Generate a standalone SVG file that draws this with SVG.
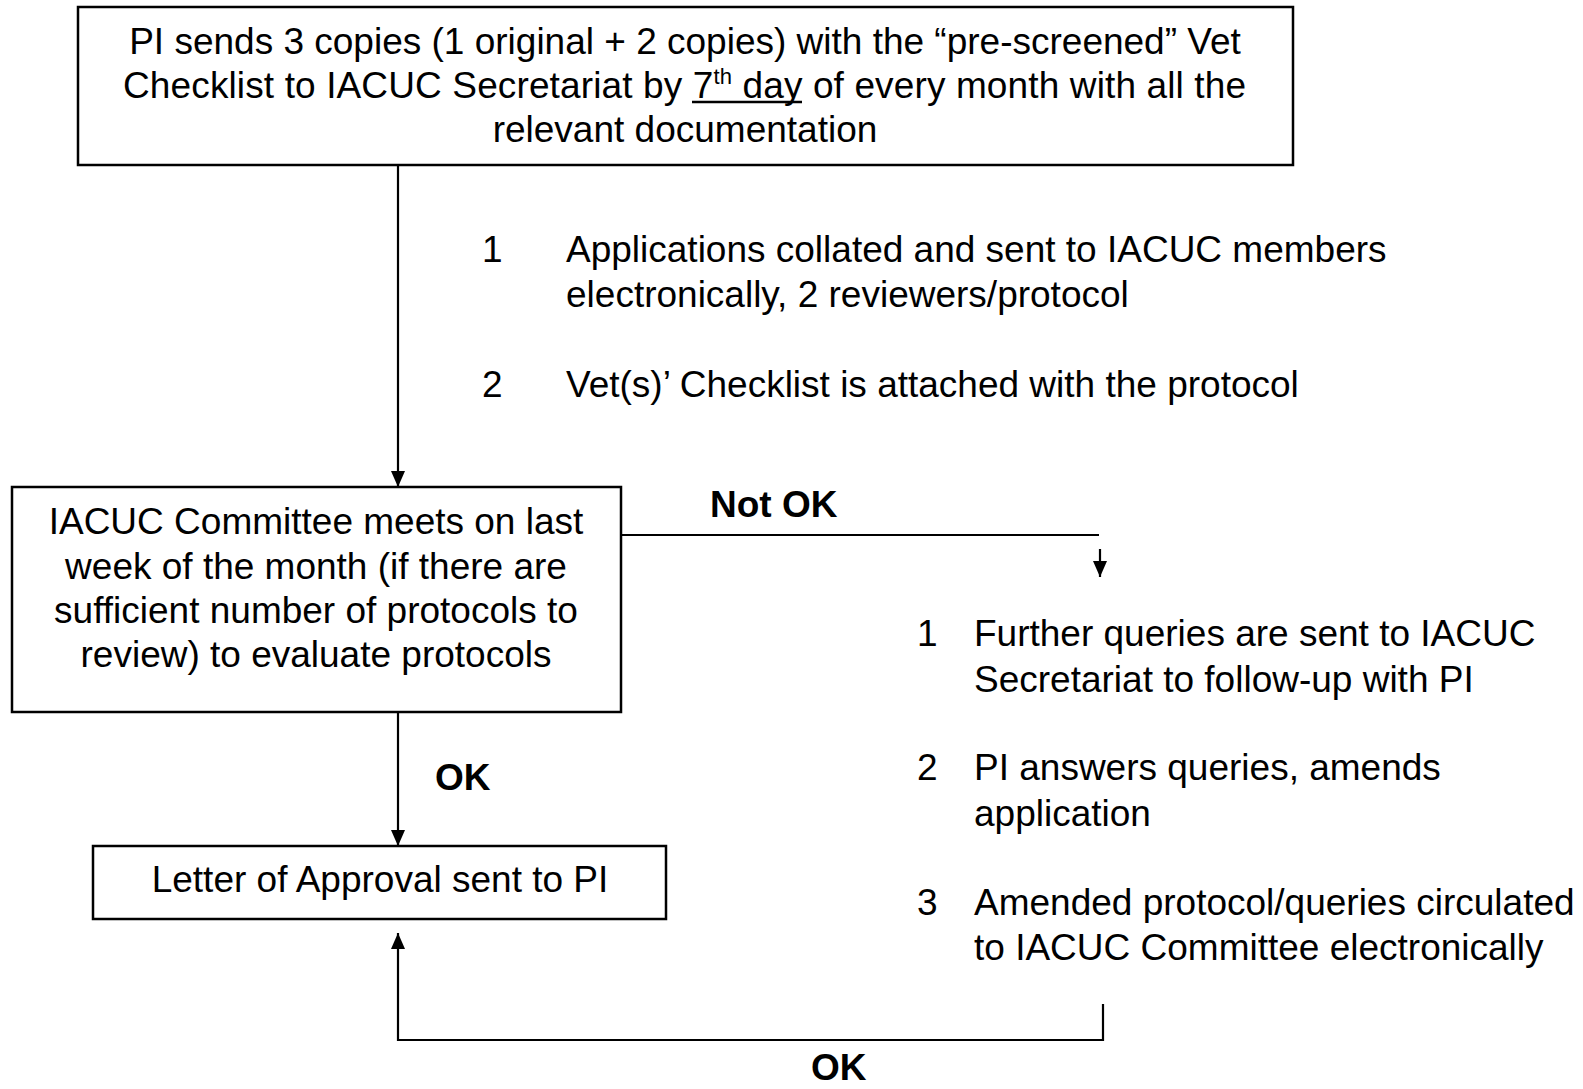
<svg xmlns="http://www.w3.org/2000/svg" width="1583" height="1089" viewBox="0 0 1583 1089">
<style>
.box{fill:#fff;stroke:#000;stroke-width:2.5}
.t{font-family:"Liberation Sans",Arial,sans-serif;font-size:37px;fill:#000}
.c{text-anchor:middle}
.b{font-weight:bold}
.ln{fill:none;stroke:#000;stroke-width:2.2}
</style>
<defs>
<marker id="ah" markerUnits="userSpaceOnUse" markerWidth="16" markerHeight="16" viewBox="0 0 16 16" refX="16" refY="8" orient="auto">
<path d="M0,1 L16,8 L0,15 Z" fill="#000"/>
</marker>
</defs>
<rect width="1583" height="1089" fill="#fff"/>
<g id="connectors">
<line class="ln" x1="398" y1="165" x2="398" y2="487" marker-end="url(#ah)"/>
<polyline class="ln" points="621,535 1099,535"/>
<line class="ln" x1="1100" y1="549" x2="1100" y2="577" marker-end="url(#ah)"/>
<line class="ln" x1="398" y1="712" x2="398" y2="846" marker-end="url(#ah)"/>
<polyline class="ln" points="1103,1004 1103,1040 398,1040 398,933" marker-end="url(#ah)"/>
</g>
<g id="node-submit">
<rect class="box" x="78" y="7" width="1215" height="158"/>
<text class="t c" x="685" y="53.5">PI sends 3 copies (1 original + 2 copies) with the “pre-screened” Vet</text>
<text class="t" x="123" y="98" textLength="1123">Checklist to IACUC Secretariat by 7<tspan font-size="22" dy="-14">th</tspan><tspan dy="14"> day of every month with all the</tspan></text>
<line x1="692" y1="102" x2="802" y2="102" stroke="#000" stroke-width="2.5"/>
<text class="t c" x="685" y="142">relevant documentation</text>
</g>
<g id="steps-review">
<text class="t" x="482" y="261.5">1</text>
<text class="t" x="566" y="261.5">Applications collated and sent to IACUC members</text>
<text class="t" x="566" y="307">electronically, 2 reviewers/protocol</text>
<text class="t" x="482" y="396.5">2</text>
<text class="t" x="566" y="396.5">Vet(s)’ Checklist is attached with the protocol</text>
</g>
<g id="node-committee">
<rect class="box" x="12" y="487" width="609" height="225"/>
<text class="t c" x="316" y="534">IACUC Committee meets on last</text>
<text class="t c" x="316" y="578.5">week of the month (if there are</text>
<text class="t c" x="316" y="623">sufficient number of protocols to</text>
<text class="t c" x="316" y="667">review) to evaluate protocols</text>
</g>
<g id="label-notok"><text class="t b" x="710" y="517">Not OK</text></g>
<g id="label-ok1"><text class="t b" x="435" y="789.5">OK</text></g>
<g id="label-ok2"><text class="t b" x="811" y="1080">OK</text></g>
<g id="steps-queries">
<text class="t" x="917" y="646">1</text>
<text class="t" x="974" y="646">Further queries are sent to IACUC</text>
<text class="t" x="974" y="691.5">Secretariat to follow-up with PI</text>
<text class="t" x="917" y="780">2</text>
<text class="t" x="974" y="780">PI answers queries, amends</text>
<text class="t" x="974" y="826">application</text>
<text class="t" x="917" y="914.5">3</text>
<text class="t" x="974" y="914.5">Amended protocol/queries circulated</text>
<text class="t" x="974" y="960">to IACUC Committee electronically</text>
</g>
<g id="node-approval">
<rect class="box" x="93" y="846" width="573" height="73"/>
<text class="t c" x="380" y="892">Letter of Approval sent to PI</text>
</g>
</svg>
